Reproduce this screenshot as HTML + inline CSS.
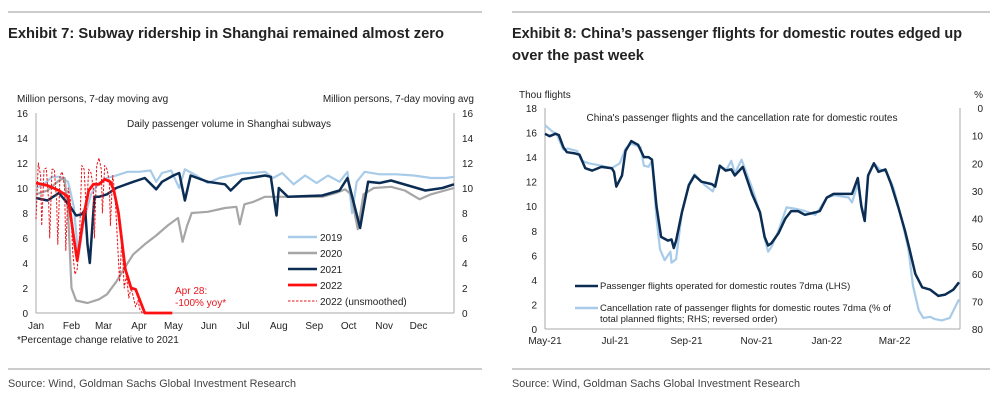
<!DOCTYPE html>
<html><head><meta charset="utf-8">
<style>
html,body{margin:0;padding:0;background:#fff;}
svg{display:block;font-family:"Liberation Sans",Arial,sans-serif;}
.t{font-size:10px;fill:#222;}
</style></head>
<body>
<svg id="s" width="997" height="403" viewBox="0 0 997 403" xmlns="http://www.w3.org/2000/svg">
<line x1="8" y1="12" x2="482" y2="12" stroke="#999"/>
<line x1="512" y1="12" x2="990" y2="12" stroke="#999"/>
<text x="8" y="38" font-size="15" font-weight="bold" fill="#222" textLength="436" lengthAdjust="spacingAndGlyphs">Exhibit 7: Subway ridership in Shanghai remained almost zero</text>
<text x="512" y="38" font-size="15" font-weight="bold" fill="#222" textLength="450" lengthAdjust="spacingAndGlyphs">Exhibit 8: China’s passenger flights for domestic routes edged up</text>
<text x="512" y="60" font-size="15" font-weight="bold" fill="#222" textLength="132" lengthAdjust="spacingAndGlyphs">over the past week</text>
<line x1="8" y1="369" x2="482" y2="369" stroke="#999"/>
<line x1="512" y1="369" x2="990" y2="369" stroke="#999"/>
<text x="8" y="387" font-size="11" fill="#444" textLength="288" lengthAdjust="spacingAndGlyphs">Source: Wind, Goldman Sachs Global Investment Research</text>
<text x="512" y="387" font-size="11" fill="#444" textLength="288" lengthAdjust="spacingAndGlyphs">Source: Wind, Goldman Sachs Global Investment Research</text>
<g id="c1"></g>
<g id="c2"></g>
</svg>
<script>
// ---- Chart 1 data ----
const months = ["Jan","Feb","Mar","Apr","May","Jun","Jul","Aug","Sep","Oct","Nov","Dec"];
const monthStarts = [0,31,59,90,120,151,181,212,243,273,304,334];
const yTicks1 = [0,2,4,6,8,10,12,14,16];
const days2019 = [0,7,14,21,28,33,37,42,48,55,62,70,80,90,100,105,110,118,125,130,140,150,160,170,180,190,200,207,215,225,235,245,255,265,272,276,280,287,300,315,330,345,358,365];
const vals2019 = [10,10.3,10.9,10.9,10.5,8.5,4.5,7.5,9.5,10.4,10.8,11.0,11.3,11.3,11.4,10.5,11.2,11.4,10.0,11.5,11.0,10.4,10.8,11.0,11.2,11.2,11.3,10.8,11.2,10.3,11.0,10.4,11.0,10.5,11.3,8.0,10.5,11.3,11.1,11.1,11.0,10.8,10.8,10.9];
const days2020 = [0,10,20,25,28,31,35,45,55,62,70,78,85,95,105,115,124,128,132,136,150,165,175,178,182,190,200,215,230,250,262,270,275,281,286,295,310,322,335,345,365];
const vals2020 = [9.5,9.8,10.6,10.8,8,2,1.0,0.8,1.1,1.5,2.5,3.7,4.7,5.5,6.2,7.0,7.6,5.7,7.0,8.0,8.1,8.4,8.5,7.1,8.7,8.9,9.3,9.3,9.3,9.3,9.6,9.9,9.5,6.7,9.5,10.0,10.1,9.8,9.1,9.5,10.0];
const days2021 = [0,10,20,30,35,40,43,45,47,51,55,62,70,85,95,105,110,120,125,130,135,150,165,170,180,200,205,210,212,220,250,265,272,283,290,300,310,325,340,355,365];
const vals2021 = [9.2,9.0,9.6,8.5,7.8,7.9,8.3,5.5,4.0,9.3,9.3,9.5,10.0,10.5,10.8,9.9,10.5,11.0,11.2,9.0,11.0,10.5,10.3,9.8,10.7,11.0,10.9,7.8,10.0,9.3,9.4,9.8,10.8,6.8,10.5,10.4,10.6,10.2,9.8,10.0,10.3];
const days2022 = [0,10,20,28,33,36,42,46,50,55,60,65,68,72,78,83,87,95,119];
const vals2022 = [10.4,10.2,9.8,9.3,6.0,4.2,8.0,9.8,10.3,10.3,10.7,10.5,9.8,8.0,3.5,2.0,1.9,0,0];
const daysRaw = [0,2,4,5,7,9,11,12,14,16,18,19,21,23,25,26,28,30,32,34,36,38,40,42,44,46,48,50,51,53,55,57,58,60,62,64,65,67,69,71,73,75,77,79,81,83,85,87,89,91,93];
const valsRaw = [7.5,12,11,7,11.5,11.6,9,6,11.5,11.5,9,5.5,11,11.3,10,5,10,9,5,3.1,3.5,6,11.8,11.5,8,11.5,11.2,10,6,11.8,12.4,11.5,8,11.8,11.5,10.5,7,11,9.5,6,2.5,6,2,3,1.2,2,1.3,0.5,1.0,0.2,0];

// ---- Chart 2 data ----
const labels2 = ["May-21","Jul-21","Sep-21","Nov-21","Jan-22","Mar-22"];
const labelDays2 = [0,61,123,184,245,304];
const yTicksL = [0,2,4,6,8,10,12,14,16,18];
const yTicksR = [0,10,20,30,40,50,60,70,80];
const daysFlights = [0,4,9,12,16,19,26,30,35,41,49,58,60,62,67,70,75,81,86,90,93,97,101,107,110,112,114,119,125,130,136,145,148,152,157,162,165,172,180,187,191,194,197,203,209,214,220,226,235,239,245,251,255,267,272,275,278,281,286,290,296,301,307,313,317,322,328,335,342,348,355,360];
const valsFlights = [15.9,15.7,15.9,15.8,14.8,14.4,14.3,14.2,13.1,12.9,13.2,13.1,12.8,11.6,12.5,14.5,15.3,15.0,14.0,14.0,13.8,10,7.5,7.2,7.3,6.6,7.2,9.5,11.7,12.5,12,11.8,11.6,13.3,12.9,13.0,12.5,13.2,11.0,9.5,7.5,6.8,7.0,7.8,9.0,9.6,9.6,9.3,9.5,9.6,10.7,11.0,11.0,11.0,12.3,10,8.8,12.5,13.5,12.8,13.0,11.8,10,8.0,6.5,4.5,3.4,3.2,2.7,2.8,3.2,3.8];
const daysCancel = [0,6,10,16,20,28,32,38,49,58,65,70,75,83,86,90,93,97,100,104,109,110,114,119,125,130,139,146,152,158,162,165,171,180,187,191,194,197,203,210,217,226,235,239,245,252,264,267,272,275,278,281,286,291,297,303,310,316,320,325,329,335,339,345,352,360];
const valsCancel = [6.2,8.4,9.3,15.1,14.7,15.6,19.1,20,20.9,21.8,20,14.7,12.9,14.2,20.9,21.3,19.1,40,51.1,55.1,52,56,54.7,37.8,27.6,24,28,30.2,21.3,22.2,19.1,23.6,18.7,28.9,37.8,47.1,52,50.2,44.4,36,36.4,37.3,38.7,36.4,32.4,31.6,32.4,34.2,27.6,34.7,40.4,24.4,20,22.2,23.1,28.9,40,51.1,64.4,73.3,76,75.6,76.4,76.9,76,69.3];

const NS="http://www.w3.org/2000/svg";
function mk(parent,tag,attrs,text){const e=document.createElementNS(NS,tag);for(const k in attrs)e.setAttribute(k,attrs[k]);if(text!==undefined)e.textContent=text;parent.appendChild(e);return e;}
function path(xs,ys,fx,fy){return xs.map((d,i)=>(i?"L":"M")+fx(d).toFixed(1)+","+fy(ys[i]).toFixed(1)).join("");}

// ---- Chart 1 ----
const g1=document.getElementById("c1");
const x1=d=>36+d*418/365, y1=v=>313-v*12.5;
let e;
e=mk(g1,"line",{x1:36,y1:113,x2:36,y2:313,stroke:"#aaa"});


e=mk(g1,"line",{x1:454,y1:113,x2:454,y2:313,stroke:"#aaa"});


e=mk(g1,"line",{x1:36,y1:313,x2:454,y2:313,stroke:"#aaa"});


yTicks1.forEach(v=>{
  e=mk(g1,"text",{x:28,y:y1(v)+4,"text-anchor":"end",class:"t"},v);
  
  
  e=mk(g1,"text",{x:462,y:y1(v)+4,class:"t"},v);
  
  
});
months.forEach((m,i)=>{
  e=mk(g1,"text",{x:x1(monthStarts[i]),y:329,"text-anchor":"middle",class:"t"},m);
  
  
});
e=mk(g1,"text",{x:17,y:102,class:"t"},"Million persons, 7-day moving avg");


e=mk(g1,"text",{x:474,y:102,"text-anchor":"end",class:"t"},"Million persons, 7-day moving avg");


e=mk(g1,"text",{x:229,y:127,"text-anchor":"middle",class:"t"},"Daily passenger volume in Shanghai subways");


e=mk(g1,"text",{x:17,y:343,class:"t"},"*Percentage change relative to 2021");


const series1=[
 [days2019,vals2019,"#a7cbe8",2.2,"","line-2019"],
 [days2020,vals2020,"#a6a6a6",2.2,"","line-2020"],
 [days2021,vals2021,"#0b2d53",2.5,"","line-2021"],
 [daysRaw,valsRaw,"#e8141a",1,"2.5,1.5","line-2022-unsmoothed"],
 [days2022,vals2022,"#ff1010",2.8,"","line-2022"]
];
series1.forEach(s=>{
  e=mk(g1,"path",{d:path(s[0],s[1],x1,y1),fill:"none",stroke:s[2],"stroke-width":s[3],"stroke-dasharray":s[4],"stroke-linejoin":"round"});
  
  
});
const leg1=[["2019","#a7cbe8",2.5,""],["2020","#a6a6a6",2.5,""],["2021","#0b2d53",2.5,""],["2022","#ff1010",2.8,""],["2022 (unsmoothed)","#e8141a",1,"2.5,1.5"]];
leg1.forEach((l,i)=>{
  const yy=237+i*16;
  e=mk(g1,"line",{x1:288,y1:yy,x2:317,y2:yy,stroke:l[1],"stroke-width":l[2],"stroke-dasharray":l[3]});
  
  
  e=mk(g1,"text",{x:320,y:yy+4,class:"t"},l[0]);
  
  
});
e=mk(g1,"text",{x:175,y:294,"font-size":"10","fill":"#e8141a"},"Apr 28:");


e=mk(g1,"text",{x:175,y:306,"font-size":"10","fill":"#e8141a"},"-100% yoy*");



// ---- Chart 2 ----
const g2=document.getElementById("c2");
const x2=d=>545+d*1.15, yL=v=>329-v*221/18, yR=v=>108+v*221/80;
e=mk(g2,"line",{x1:545,y1:108,x2:545,y2:329,stroke:"#aaa"});


e=mk(g2,"line",{x1:960,y1:108,x2:960,y2:329,stroke:"#aaa"});


e=mk(g2,"line",{x1:545,y1:329,x2:960,y2:329,stroke:"#aaa"});


yTicksL.forEach(v=>{
  e=mk(g2,"text",{x:537,y:yL(v)+4,"text-anchor":"end",class:"t"},v);
  
  
});
yTicksR.forEach(v=>{
  e=mk(g2,"text",{x:983,y:yR(v)+4,"text-anchor":"end",class:"t"},v);
  
  
});
labels2.forEach((m,i)=>{
  e=mk(g2,"text",{x:x2(labelDays2[i]),y:344,"text-anchor":"middle",class:"t"},m);
  
  
});
e=mk(g2,"text",{x:519,y:98,class:"t"},"Thou flights");


e=mk(g2,"text",{x:983,y:98,"text-anchor":"end",class:"t"},"%");


e=mk(g2,"text",{x:742,y:121,"text-anchor":"middle",class:"t"},"China's passenger flights and the cancellation rate for domestic routes");


e=mk(g2,"path",{d:path(daysCancel,valsCancel,x2,yR),fill:"none",stroke:"#a7cbe8","stroke-width":2.2,"stroke-linejoin":"round"});


e=mk(g2,"path",{d:path(daysFlights,valsFlights,x2,yL),fill:"none",stroke:"#0b2d53","stroke-width":2.5,"stroke-linejoin":"round"});


e=mk(g2,"line",{x1:575,y1:286,x2:598,y2:286,stroke:"#0b2d53","stroke-width":2.5});


e=mk(g2,"text",{x:600,y:289,"font-size":"9.5",fill:"#222"},"Passenger flights operated for domestic routes 7dma (LHS)");


e=mk(g2,"line",{x1:575,y1:308,x2:598,y2:308,stroke:"#a7cbe8","stroke-width":2.5});


e=mk(g2,"text",{x:600,y:311,"font-size":"9.5",fill:"#222"},"Cancellation rate of passenger flights for domestic routes 7dma (% of");


e=mk(g2,"text",{x:600,y:322,"font-size":"9.5",fill:"#222"},"total planned flights; RHS; reversed order)");


</script>
</body></html>
